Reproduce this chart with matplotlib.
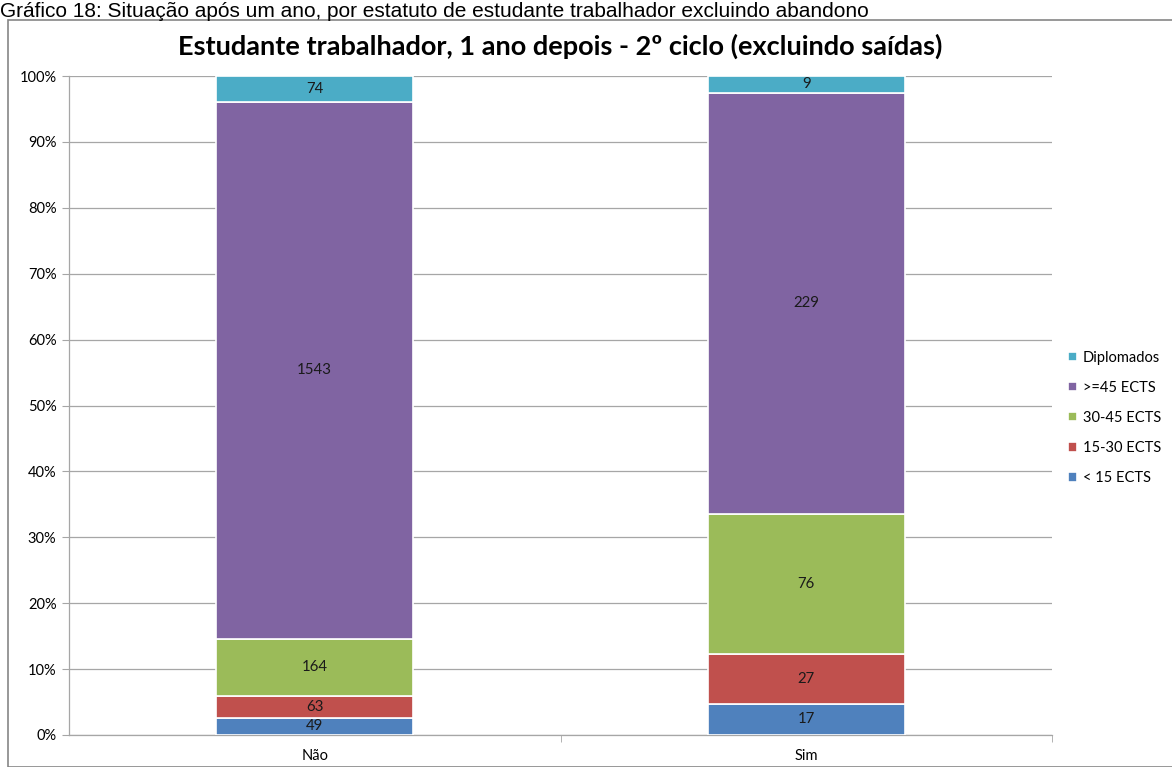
import numpy as np
import matplotlib
matplotlib.use("Agg")
import matplotlib.pyplot as plt
from matplotlib.patches import Rectangle

# data (counts per status)
categories = ["Não", "Sim"]
series_names = ["< 15 ECTS", "15-30 ECTS", "30-45 ECTS", ">=45 ECTS", "Diplomados"]
lt15 = [49, 17]
e15_30 = [63, 27]
e30_45 = [164, 76]
ge45 = [1543, 229]
diplomados = [74, 9]
colors = ["#4F81BD", "#C0504D", "#9BBB59", "#8064A2", "#4BACC6"]

title = "Estudante trabalhador, 1 ano depois - 2º ciclo (excluindo saídas)"
header = "Gráfico 18: Situação após um ano, por estatuto de estudante trabalhador excluindo abandono"

font = "Lato"

fig = plt.figure(figsize=(11.72, 7.67), dpi=100)
ax = fig.add_axes([69/1172, 1-735/767, (1052-69)/1172, (735-76)/767])

# outer chart frame
fig.patches.append(Rectangle((8/1172, 0), 1, 1-20/767, transform=fig.transFigure,
                             fill=False, edgecolor="#868686", linewidth=1.2))
fig.text(0.0, 1-17/767, header, family="Liberation Sans", fontsize=15,
         color="#000000", va="baseline", ha="left")

series = [lt15, e15_30, e30_45, ge45, diplomados]
counts = np.array(series, dtype=float)
totals = counts.sum(axis=0)
pct = counts / totals * 100

x = np.arange(len(categories))
bottom = np.zeros(len(categories))
for name, vals, p, c in zip(series_names, series, pct, colors):
    bars = ax.bar(x, p, 0.4, bottom=bottom, color=c, edgecolor="white",
                  linewidth=1.2, label=name, zorder=3)
    for xi, b, h, v in zip(x, bottom, p, vals):
        ax.text(xi, b + h/2, str(v), ha="center", va="center",
                fontsize=10.8, family=font, color="#1a1a1a", zorder=4)
    bottom += p

ax.set_xlim(-0.5, 1.5)
ax.set_ylim(0, 100)
ax.set_yticks(np.arange(0, 101, 10))
ax.set_yticklabels([f"{v}%" for v in range(0, 101, 10)], family=font, fontsize=10.5)
ax.set_xticks(x)
ax.set_xticklabels(categories, family=font, fontsize=10.5)
ax.set_xticks([0.5, 1.5], minor=True)
ax.tick_params(axis="x", which="major", length=0, pad=10)
ax.tick_params(axis="x", which="minor", length=5, color="#a6a6a6")
ax.tick_params(axis="y", length=5, color="#a6a6a6", pad=4)
ax.yaxis.grid(True, color="#a6a6a6", linewidth=0.9, zorder=0)
for s in ["top", "right"]:
    ax.spines[s].set_visible(False)
for s in ["left", "bottom"]:
    ax.spines[s].set_color("#a6a6a6")
    ax.spines[s].set_linewidth(0.9)

ax.set_title(title, family=font, fontweight="bold", fontsize=19.5, pad=15)

handles, labels = ax.get_legend_handles_labels()
leg = fig.legend(handles[::-1], labels[::-1], loc="center left",
                 bbox_to_anchor=(1055/1172, 1-418/767), frameon=False,
                 prop={"family": font, "size": 10.5}, handlelength=0.6,
                 handleheight=0.6, handletextpad=0.4, labelspacing=1.1)

fig.savefig("out.png", dpi=100)
